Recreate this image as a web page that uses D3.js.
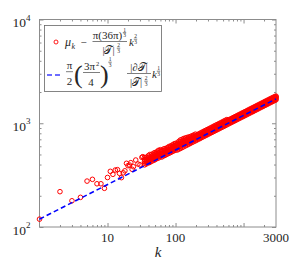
<!DOCTYPE html>
<html><head><meta charset="utf-8">
<script src="https://cdn.jsdelivr.net/npm/d3@7"></script>
<style>body{margin:0;background:#fff}svg{display:block}text{font-family:"Liberation Serif","Times New Roman",serif;fill:#262626}</style>
</head><body>
<script>
// sparse points at small k
const kSparse = [1,2,3,4,5,6,7,8,9,10,11,12,13,14,15,16,17,18,19,20,21,22,23,24,26,28,30,32,33];
const muSparse = [119,219,179,193,277,288,261,261,236,300,344,322,354,357,329,299,333,348,411,390,396,417,360,381,442,405,398,469,476];
// dense band
const kDense = [35,37,40,42,45,48,50,53,56,60,63,67,70,75,80,85,90,95,100,106,112,118,125,132,140,148,156,165,175,185,196,207,220,232,245,260,275,290,307,325,344,364,385,407,430,455,481,509,538,569,602,637,673,712,753,796,842,890,941,995,1052,1113,1177,1244,1316,1391,1471,1556,1645,1740,1840,1945,2057,2175,2300,2432,2572,2720,2876,3000];
const muLow = [397,405,415,420,431,440,446,456,462,475,473,485,490,502,513,523,535,543,552,552,563,572,583,594,606,617,628,640,653,665,677,690,704,716,730,745,759,772,787,802,817,833,849,864,880,897,913,931,949,966,985,1004,1022,1042,1061,1081,1102,1122,1143,1164,1186,1208,1232,1254,1278,1301,1326,1351,1377,1403,1429,1455,1484,1511,1540,1569,1597,1628,1658,1682];
const muLowMid = [412,420,432,434,447,455,463,472,480,492,491,503,510,520,533,542,554,563,574,576,588,600,613,621,632,642,653,665,678,690,703,712,725,738,752,767,781,795,810,825,841,857,873,889,906,922,940,958,977,995,1010,1028,1047,1067,1087,1107,1129,1149,1171,1193,1215,1238,1262,1285,1309,1333,1359,1384,1410,1437,1464,1491,1520,1548,1578,1608,1637,1668,1699,1722];
const muMid = [428,437,452,448,465,471,482,490,500,510,510,522,530,540,555,562,575,585,597,600,615,630,645,650,660,670,680,692,705,718,730,735,748,760,775,790,805,820,835,850,867,884,900,917,934,951,969,988,1007,1025,1035,1055,1074,1095,1115,1136,1158,1179,1201,1224,1246,1270,1295,1318,1343,1368,1394,1420,1447,1475,1502,1530,1559,1588,1618,1649,1679,1711,1743,1767];
const muMidHigh = [447,453,470,474,484,493,502,510,524,533,530,543,550,560,576,583,596,608,618,622,642,660,672,681,691,700,707,718,731,744,757,755,769,782,797,813,828,843,859,875,892,909,926,943,961,978,997,1016,1036,1055,1055,1075,1095,1116,1137,1158,1180,1202,1224,1247,1270,1294,1320,1344,1369,1394,1421,1448,1475,1503,1531,1559,1589,1619,1649,1681,1711,1744,1774,1796];
const muHigh = [467,470,488,500,503,515,522,530,548,556,549,565,570,580,597,605,618,632,640,645,670,690,700,712,722,730,735,745,757,770,785,775,790,804,820,836,851,867,883,900,917,935,953,970,988,1006,1025,1045,1065,1085,1075,1096,1116,1137,1159,1180,1203,1225,1248,1271,1295,1319,1345,1370,1395,1421,1448,1476,1503,1532,1560,1589,1620,1650,1681,1713,1744,1777,1805,1825];
// reference line
const kLine = [1,3000];
const muLine = [119,1716];
const xTickLabels = [10,100,3000];
const yTickVals = [100,1000,10000];
const yTickExp = ["2","3","4"];

const W=305,H=263;
const FF='"Liberation Serif","Times New Roman",serif';
const svg=d3.select("body").append("svg").attr("width",W).attr("height",H);
const x=d3.scaleLog().domain([1,3000]).range([39.5,276]);
const y=d3.scaleLog().domain([100,10000]).range([227,19.5]);
const axCol="#8c8c8c";

const xMinor=[];for(const d of [1,10,100,1000])for(let m=2;m<=9;m++){if(d*m<3000)xMinor.push(d*m);}
const yMinor=[];for(const d of [100,1000])for(let m=2;m<=9;m++)yMinor.push(d*m);
const xMajor=[10,100,1000];

function axisG(gen,tx,ty){const g=svg.append("g").attr("transform",`translate(${tx},${ty})`).call(gen);
 g.select(".domain").remove();g.selectAll("line").attr("stroke",axCol);g.selectAll("text").remove();return g;}
axisG(d3.axisBottom(x).tickValues(xMinor).tickSize(-2),0,227);
axisG(d3.axisBottom(x).tickValues(xMajor).tickSize(-4),0,227);
axisG(d3.axisTop(x).tickValues(xMinor).tickSize(-2),0,19.5);
axisG(d3.axisTop(x).tickValues(xMajor).tickSize(-4),0,19.5);
axisG(d3.axisLeft(y).tickValues(yMinor).tickSize(-2),39.5,0);
axisG(d3.axisLeft(y).tickValues(yTickVals).tickSize(-4),39.5,0);
axisG(d3.axisRight(y).tickValues(yMinor).tickSize(-2),276,0);
axisG(d3.axisRight(y).tickValues(yTickVals).tickSize(-4),276,0);
svg.append("rect").attr("x",39.5).attr("y",19.5).attr("width",276-39.5).attr("height",227-19.5)
 .attr("fill","none").attr("stroke",axCol).attr("stroke-width",1);

svg.append("g").selectAll("text").data(xTickLabels).join("text")
 .attr("font-family",FF).attr("x",d=>x(d)).attr("y",242).attr("text-anchor","middle").attr("font-size",13).text(d=>d);
const yl=svg.append("g").selectAll("text").data(yTickVals).join("text")
 .attr("font-family",FF).attr("x",30.5).attr("y",d=>y(d)+7.5).attr("text-anchor","end").attr("font-size",13.5);
yl.append("tspan").text("10");
yl.append("tspan").attr("dy",-6.5).attr("font-size",9).text((d,i)=>yTickExp[i]);
svg.append("text").attr("font-family",FF).attr("x",158).attr("y",257).attr("text-anchor","middle").attr("font-size",15)
 .attr("font-style","italic").text("k");

const pts=[];
kSparse.forEach((k,i)=>pts.push([k,muSparse[i]]));
kDense.forEach((k,i)=>{[muLow,muLowMid,muMid,muMidHigh,muHigh].forEach(a=>pts.push([k,a[i]]));});
svg.append("g").selectAll("circle").data(pts).join("circle")
 .attr("cx",d=>x(d[0])).attr("cy",d=>y(d[1])).attr("r",2.3)
 .attr("fill","none").attr("stroke","#ff0000").attr("stroke-width",1);
svg.append("path").datum(kLine.map((k,i)=>[k,muLine[i]]))
 .attr("d",d3.line().x(d=>x(d[0])).y(d=>y(d[1])))
 .attr("fill","none").attr("stroke","#0000ff").attr("stroke-width",1.6).attr("stroke-dasharray","5,3");

// legend
const lg=svg.append("g");
lg.append("rect").attr("x",44.5).attr("y",25.5).attr("width",117).attr("height",66)
 .attr("fill","#fff").attr("stroke","#666").attr("stroke-width",0.8);
lg.append("circle").attr("cx",56).attr("cy",42).attr("r",2).attr("fill","none").attr("stroke","#ff0000").attr("stroke-width",0.9);
lg.append("line").attr("x1",47).attr("x2",61).attr("y1",75).attr("y2",75).attr("stroke","#3c3cff")
 .attr("stroke-width",1.5).attr("stroke-dasharray","5,3");
function t(xx,yy,s,fs,opt={}){const e=lg.append("text").attr("font-family",FF).attr("x",xx).attr("y",yy).attr("font-size",fs).text(s);
 if(opt.it)e.attr("font-style","italic");if(opt.a)e.attr("text-anchor",opt.a);return e;}
function bar(x1,x2,yy){lg.append("line").attr("x1",x1).attr("x2",x2).attr("y1",yy).attr("y2",yy).attr("stroke","#262626").attr("stroke-width",0.6);}
function frac3(xx,yy,a,b){t(xx,yy,a,5.5,{a:"middle"});bar(xx-1.7,xx+1.7,yy+1.2);t(xx,yy+5.5,b,5.5,{a:"middle"});}
const T="𝒯";
// entry 1
t(65,46,"μ",12,{it:1});t(71.5,48.5,"k",8,{it:1});
t(80.5,45.5,"−",11);
t(107.5,38.5,"π(36π)",11,{a:"middle"});frac3(124.5,31.5,"1","3");
bar(92.5,127,41.5);
t(108.5,53.5,"|"+T+"|",10.5,{a:"middle"});frac3(118.5,47,"2","3");
t(129,46,"k",11,{it:1});frac3(135.5,38,"2","3");
// entry 2
t(69.5,69,"π",11,{a:"middle"});bar(66,73,71.7);t(69.5,84.5,"2",11,{a:"middle"});
t(74,83,"(",26);
t(89.5,70,"3π",11,{a:"middle"});t(96,65.5,"2",6.5);bar(83,100,72.5);t(91,85.5,"4",11,{a:"middle"});
t(100,83,")",26);
frac3(110,61,"1","3");
t(139,71,"|∂"+T+"|",10.5,{a:"middle"});bar(127,151,73.5);
t(136,86,"|"+T+"|",10.5,{a:"middle"});frac3(146,80,"2","3");
t(152,78,"k",11,{it:1});frac3(158.5,70,"1","3");
</script>
</body></html>
